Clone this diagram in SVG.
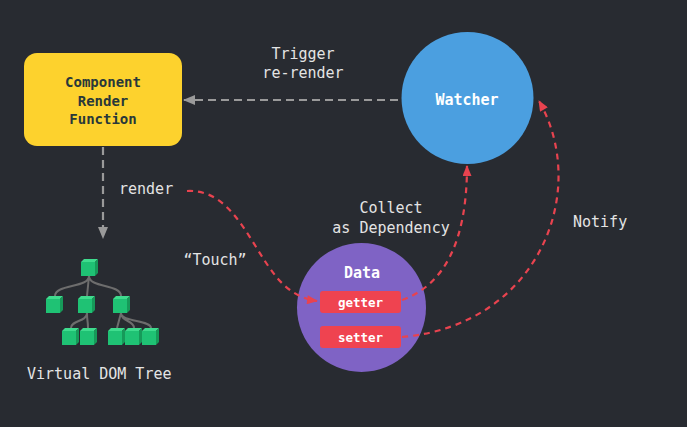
<svg xmlns="http://www.w3.org/2000/svg" xmlns:xlink="http://www.w3.org/1999/xlink" width="687" height="427" viewBox="0 0 687 427">
<style>
.lbl{font-family:"DejaVu Sans Mono","Liberation Mono",monospace;font-size:15px;fill:#e4e4e4;}
.bold{font-family:"DejaVu Sans Mono","Liberation Mono",monospace;font-weight:bold;}
.grey{fill:none;stroke:#9a9a9a;stroke-width:2.2;stroke-dasharray:8 5;}
.red{fill:none;stroke:#e8434f;stroke-width:2.2;stroke-dasharray:6 5;}
.branch{fill:none;stroke:#6d6d6d;stroke-width:2;}
</style>
<defs>
<marker id="ag" viewBox="0 0 12 10" refX="11" refY="5" markerWidth="12" markerHeight="10" markerUnits="userSpaceOnUse" orient="auto">
<path d="M0,0 L12,5 L0,10 Z" fill="#9a9a9a"/>
</marker>
<marker id="ar" viewBox="0 0 12 10" refX="11" refY="5" markerWidth="12" markerHeight="9" markerUnits="userSpaceOnUse" orient="auto">
<path d="M0,0 L12,5 L0,10 Z" fill="#e8434f"/>
</marker>
<g id="cube">
<rect x="0" y="3" width="14" height="14" fill="#1fc274"/>
<path d="M0,3 L3,0 L17,0 L14,3 Z" fill="#3fdc8e"/>
<path d="M14,3 L17,0 L17,14 L14,17 Z" fill="#169a59"/>
</g>
</defs>
<rect width="687" height="427" fill="#282b31"/>

<g id="component-render-function">
<rect x="24" y="53" width="158" height="93" rx="13" fill="#fdd22d"/>
<text class="bold" x="103" y="87" font-size="14" fill="#28383a" text-anchor="middle">Component</text>
<text class="bold" x="103" y="106" font-size="14" fill="#28383a" text-anchor="middle">Render</text>
<text class="bold" x="103" y="124" font-size="14" fill="#28383a" text-anchor="middle">Function</text>
</g>

<g id="watcher">
<circle cx="467.5" cy="98" r="66" fill="#4b9fe0"/>
<text class="bold" x="467" y="105" font-size="15" fill="#ffffff" text-anchor="middle">Watcher</text>
</g>

<g id="data">
<circle cx="361.5" cy="307.5" r="64.5" fill="#7f63c5"/>
<text class="bold" x="362" y="278" font-size="15" fill="#ffffff" text-anchor="middle">Data</text>
</g>
<g id="getter">
<rect x="320" y="291" width="81" height="22" rx="3" fill="#ef4350"/>
<text class="bold" x="360.5" y="306.5" font-size="12.5" fill="#ffffff" text-anchor="middle">getter</text>
</g>
<g id="setter">
<rect x="320" y="326" width="81" height="22" rx="3" fill="#ef4350"/>
<text class="bold" x="360.5" y="341.5" font-size="12.5" fill="#ffffff" text-anchor="middle">setter</text>
</g>

<g id="virtual-dom-tree">
<path class="branch" d="M89,276 C89,288 55,284 55,296 M89,276 L87,296 M89,276 C89,288 121,284 121,296"/>
<path class="branch" d="M87,313 C87,322 71,320 71,328 M87,313 C87,322 88,320 88,328"/>
<path class="branch" d="M121,313 L117,328 M121,313 C121,322 134,320 134,328 M121,313 C121,322 151,320 151,328"/>
<use xlink:href="#cube" x="81" y="259"/>
<use xlink:href="#cube" x="46" y="296"/>
<use xlink:href="#cube" x="78" y="296"/>
<use xlink:href="#cube" x="113" y="296"/>
<use xlink:href="#cube" x="62" y="328"/>
<use xlink:href="#cube" x="80" y="328"/>
<use xlink:href="#cube" x="108" y="328"/>
<use xlink:href="#cube" x="125" y="328"/>
<use xlink:href="#cube" x="142" y="328"/>
<text class="lbl" x="27" y="378.5" font-size="15.5">Virtual DOM Tree</text>
</g>

<g id="connectors">
<path class="grey" d="M398,100 L184,100" marker-end="url(#ag)"/>
<path class="grey" d="M103,147 L103,238" marker-end="url(#ag)"/>
<path class="red" d="M187,191 C240,188 255,265 290,290 Q302,299 317,301" marker-end="url(#ar)"/>
<path class="red" d="M402,300 C445,285 467,240 467,166" marker-end="url(#ar)"/>
<path class="red" d="M402,337 C540,325 590,190 539,101" marker-end="url(#ar)"/>
</g>

<g id="labels">
<text class="lbl" x="303" y="59" text-anchor="middle">Trigger</text>
<text class="lbl" x="303" y="78" text-anchor="middle">re-render</text>
<text class="lbl" x="119" y="194">render</text>
<text class="lbl" x="215" y="265" text-anchor="middle">“Touch”</text>
<text class="lbl" x="391" y="213" text-anchor="middle">Collect</text>
<text class="lbl" x="391" y="233" text-anchor="middle">as Dependency</text>
<text class="lbl" x="573" y="227">Notify</text>
</g>
</svg>
